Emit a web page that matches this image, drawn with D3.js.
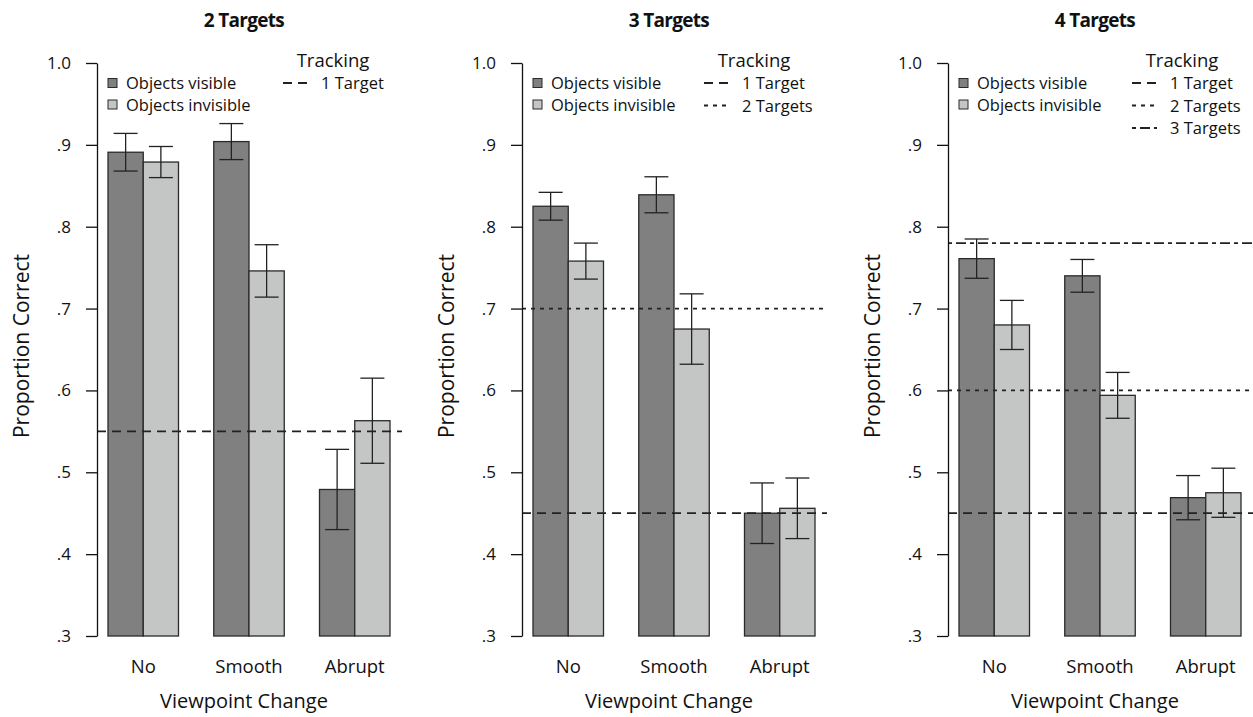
<!DOCTYPE html>
<html>
<head>
<meta charset="utf-8">
<script src="https://cdn.jsdelivr.net/npm/d3@7"></script>
<style>
  body { margin: 0; background: #fff; }
  svg { display: block; font-family: "Open Sans", "Noto Sans", sans-serif; }
</style>
</head>
<body>
<svg id="chart" width="1253" height="717"></svg>
<script>
// chart data
const panelTitles = ['2 Targets', '3 Targets', '4 Targets'];
const conditions = ['No', 'Smooth', 'Abrupt'];
const seriesNames = ['Objects visible', 'Objects invisible'];
const visibleMeans = [[0.891, 0.904, 0.479], [0.825, 0.839, 0.450], [0.761, 0.740, 0.469]];
const visibleErr = [[0.023, 0.022, 0.049], [0.017, 0.022, 0.037], [0.024, 0.020, 0.027]];
const invisibleMeans = [[0.879, 0.746, 0.563], [0.758, 0.675, 0.456], [0.680, 0.594, 0.475]];
const invisibleErr = [[0.019, 0.032, 0.052], [0.022, 0.043, 0.037], [0.030, 0.028, 0.030]];
const trackingLabels = ['1 Target', '2 Targets', '3 Targets'];
const trackingLevels = [[0.55], [0.45, 0.70], [0.45, 0.60, 0.78]];
const yTicks = [0.3, 0.4, 0.5, 0.6, 0.7, 0.8, 0.9, 1.0];

const svg = d3.select('#chart');

const FILLS = ['#808080', '#c4c6c5'];
const DASHES = ['9,6', '4,5', '4,4,10,4'];
const panelX = [97, 522, 948]; // y axis positions
const legendLineX = [186, 182, 184]; // tracking legend offset from axis
const plotW = 305;

const y = d3.scaleLinear().domain([0.3, 1.0]).range([636, 63]);
const fmt = (d) => (d === 1 ? '1.0' : d3.format('.1f')(d).replace(/^0/, ''));

panelTitles.forEach((title, p) => {
  const ax = panelX[p];
  const g = svg.append('g');

  const x = d3.scaleBand()
    .domain(conditions)
    .range([ax + 11, ax + 11 + 282])
    .paddingInner(1 / 3)
    .paddingOuter(0);
  const xs = d3.scaleBand().domain(seriesNames).range([0, x.bandwidth()]);

  const rows = conditions.map((c, i) => [
    { cond: c, s: seriesNames[0], v: visibleMeans[p][i], e: visibleErr[p][i], k: 0 },
    { cond: c, s: seriesNames[1], v: invisibleMeans[p][i], e: invisibleErr[p][i], k: 1 },
  ]).flat();

  // bars
  g.selectAll('rect.bar')
    .data(rows)
    .join('rect')
    .attr('class', 'bar')
    .attr('x', (d) => x(d.cond) + xs(d.s))
    .attr('y', (d) => y(d.v))
    .attr('width', xs.bandwidth())
    .attr('height', (d) => y(0.3) - y(d.v))
    .style('fill', (d) => FILLS[d.k])
    .style('stroke', '#2a2a2a')
    .style('stroke-width', 1.3);

  // reference lines
  trackingLevels[p].forEach((lvl, i) => {
    g.append('line')
      .attr('x1', ax)
      .attr('x2', ax + plotW)
      .attr('y1', y(lvl))
      .attr('y2', y(lvl))
      .style('stroke', '#222')
      .style('stroke-width', 1.8)
      .style('stroke-dasharray', DASHES[i]);
  });

  // error bars
  const eb = g.selectAll('g.err').data(rows).join('g').attr('class', 'err');
  const cx = (d) => x(d.cond) + xs(d.s) + xs.bandwidth() / 2;
  eb.append('line')
    .attr('x1', cx).attr('x2', cx)
    .attr('y1', (d) => y(d.v + d.e)).attr('y2', (d) => y(d.v - d.e));
  eb.append('line')
    .attr('x1', (d) => cx(d) - 12).attr('x2', (d) => cx(d) + 12)
    .attr('y1', (d) => y(d.v + d.e)).attr('y2', (d) => y(d.v + d.e));
  eb.append('line')
    .attr('x1', (d) => cx(d) - 12).attr('x2', (d) => cx(d) + 12)
    .attr('y1', (d) => y(d.v - d.e)).attr('y2', (d) => y(d.v - d.e));
  eb.selectAll('line').style('stroke', '#222').style('stroke-width', 1.3);

  // y axis
  const yAxis = g.append('g')
    .attr('transform', `translate(${ax},0)`)
    .call(d3.axisLeft(y).tickValues(yTicks).tickFormat(fmt).tickSize(11).tickSizeOuter(0).tickPadding(15));
  yAxis.select('.domain').style('stroke', '#111').style('stroke-width', 1.3);
  yAxis.selectAll('.tick line').style('stroke', '#111').style('stroke-width', 1.3);
  yAxis.selectAll('.tick text')
    .style('font-size', '17px')
    .style('fill', '#111')
    .style('font-family', '"Open Sans", sans-serif');

  // category labels
  g.selectAll('text.cat')
    .data(conditions)
    .join('text')
    .attr('class', 'cat')
    .attr('x', (d) => x(d) + x.bandwidth() / 2)
    .attr('y', 673)
    .attr('text-anchor', 'middle')
    .style('font-size', '18.5px')
    .style('fill', '#111')
    .text((d) => d);

  // axis titles
  g.append('text')
    .attr('x', ax + 147)
    .attr('y', 708)
    .attr('text-anchor', 'middle')
    .style('font-size', '20px')
    .style('fill', '#111')
    .text('Viewpoint Change');

  g.append('text')
    .attr('transform', `translate(${ax - 68},346) rotate(-90)`)
    .attr('text-anchor', 'middle')
    .style('font-size', '21px')
    .style('fill', '#111')
    .text('Proportion Correct');

  // panel title
  g.append('text')
    .attr('x', ax + 147)
    .attr('y', 27)
    .attr('text-anchor', 'middle')
    .style('font-size', '19px')
    .style('font-weight', 'bold')
    .style('letter-spacing', '-0.7px')
    .style('fill', '#111')
    .text(title);

  // legend: bar series
  const leg = g.append('g').attr('transform', `translate(${ax + 11},0)`);
  seriesNames.forEach((s, i) => {
    const ly = 83 + i * 21.5;
    leg.append('rect')
      .attr('x', 0).attr('y', ly - 4.5)
      .attr('width', 9).attr('height', 9)
      .style('fill', FILLS[i])
      .style('stroke', '#2a2a2a')
      .style('stroke-width', 1);
    leg.append('text')
      .attr('x', 18).attr('y', ly + 6)
      .style('font-size', '16.5px')
      .style('fill', '#111')
      .text(s);
  });

  // legend: tracking lines
  const tl = g.append('g').attr('transform', `translate(${ax + legendLineX[p]},0)`);
  tl.append('text')
    .attr('x', 50).attr('y', 67)
    .attr('text-anchor', 'middle')
    .style('font-size', '18.5px')
    .style('fill', '#111')
    .text('Tracking');
  trackingLevels[p].forEach((lvl, i) => {
    const ly = 83 + i * 22.5;
    tl.append('line')
      .attr('x1', 0).attr('x2', 25)
      .attr('y1', ly).attr('y2', ly)
      .style('stroke', '#222')
      .style('stroke-width', 1.8)
      .style('stroke-dasharray', DASHES[i]);
    tl.append('text')
      .attr('x', 38).attr('y', ly + 6)
      .style('font-size', '16.5px')
      .style('fill', '#111')
      .text(trackingLabels[i]);
  });
});
</script>
</body>
</html>
